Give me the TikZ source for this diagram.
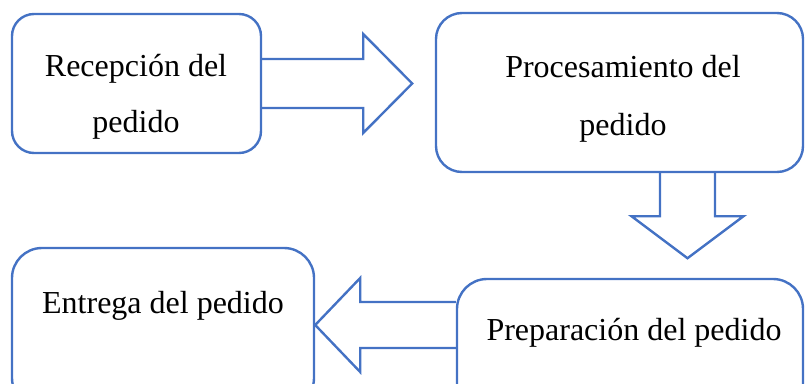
\documentclass[tikz,border=0pt]{standalone}
\usepackage{fontspec}
\setmainfont{Liberation Serif}
\usetikzlibrary{calc}
\definecolor{wordblue}{HTML}{4472C4}
\begin{document}
\begin{tikzpicture}[x=1pt,y=-1pt,
  stage/.style={draw=wordblue,line width=2.4pt,rounded corners=#1,inner sep=0pt},
  stage/.default=22pt,
  txt/.style={font=\fontsize{32}{38}\selectfont,anchor=base,inner sep=0pt},
  flow/.style={draw=wordblue,line width=2.4pt,line join=miter}]
\useasboundingbox (0,0) rectangle (805,383);
\clip (0,0) rectangle (805,383);

% process stages
\node[stage=22pt,minimum width=249pt,minimum height=139pt] (b1) at (136.5,83.5) {};
\node[stage=26pt,minimum width=367pt,minimum height=159pt] (b2) at (619.5,92.5) {};
\node[stage=30pt,minimum width=302pt,minimum height=160pt] (b3) at (163,328) {};
\node[stage=30pt,minimum width=346pt,minimum height=140pt] (b4) at (630,349) {};

% stage captions
\node[txt] (t1a) at (136,76) {Recepción del};
\node[txt] (t1b) at (136,132) {pedido};
\node[txt] (t2a) at (623,77) {Procesamiento del};
\node[txt] (t2b) at (623,135) {pedido};
\node[txt] (t3) at (163,313) {Entrega del pedido};
\node[txt] (t4) at (634,340) {Preparación del pedido};

% block arrows between stages
\coordinate (a1tip) at ($(b1.east)+(150,0)$);
\draw[flow] ($(b1.east)+(0,-24.5)$) -- ++(101,0) -- ++(0,-25) -- (a1tip)
  -- ($(b1.east)+(101,49.5)$) -- ++(0,-25) -- ($(b1.east)+(0,24.5)$);

\coordinate (a2tip) at ($(b2.south)+(68,85)$);
\draw[flow] ($(b2.south)+(40.5,0)$) -- ++(0,43) -- ++(-28.5,0) -- (a2tip)
  -- ($(b2.south)+(124,43)$) -- ++(-28.5,0) -- ($(b2.south)+(95.5,0)$);

\coordinate (a3tip) at ($(b3.east)+(0,-3)$);
\draw[flow] ($(b4.west |- a3tip)+(0,-23)$) -- ($(a3tip)+(45,-23)$) -- ++(0,-24) -- (a3tip)
  -- ($(a3tip)+(45,47)$) -- ++(0,-24) -- ($(b4.west |- a3tip)+(0,23)$);
\end{tikzpicture}
\end{document}
